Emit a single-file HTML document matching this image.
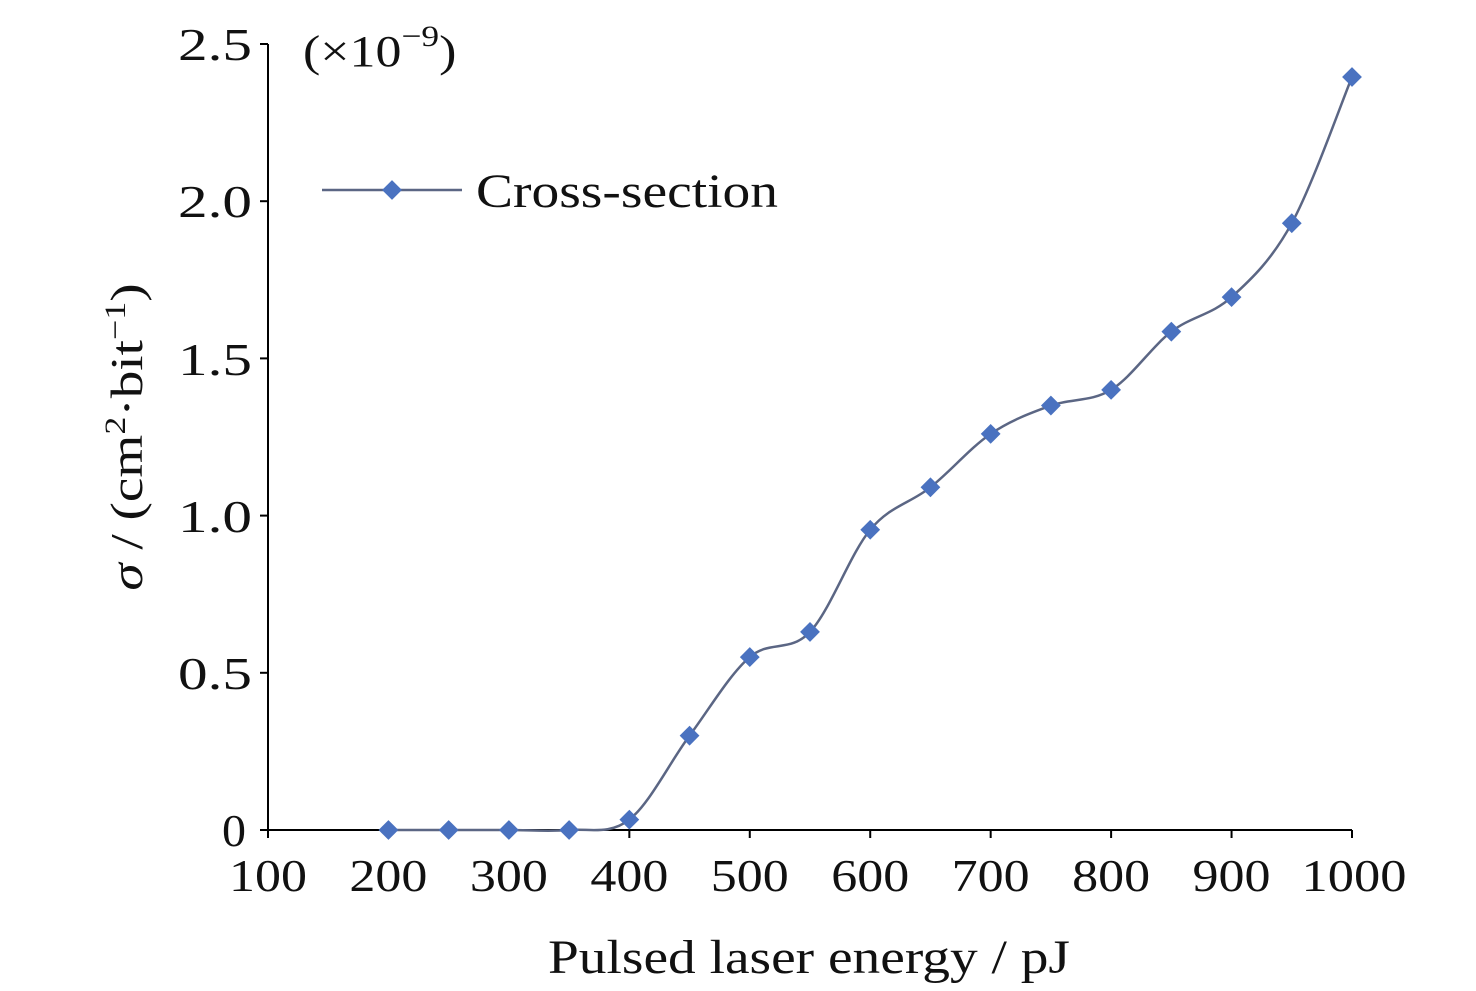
<!DOCTYPE html>
<html><head><meta charset="utf-8"><style>
html,body{margin:0;padding:0;background:#fff;}
svg{display:block;font-family:"Liberation Serif",serif;}
</style></head><body>
<svg id="s" width="1476" height="991" viewBox="0 0 1476 991">
<g stroke="#000" stroke-width="2" fill="none">
<line x1="268" y1="44" x2="268" y2="831"/>
<line x1="267" y1="830" x2="1352" y2="830"/>
</g>
<g id="ticks" stroke="#000" stroke-width="2"></g>
<g font-size="46" fill="#111">
<text x="222" y="846" textLength="24" lengthAdjust="spacingAndGlyphs">0</text>
<text x="178" y="689" textLength="74" lengthAdjust="spacingAndGlyphs">0.5</text>
<text x="178" y="532" textLength="74" lengthAdjust="spacingAndGlyphs">1.0</text>
<text x="178" y="375" textLength="74" lengthAdjust="spacingAndGlyphs">1.5</text>
<text x="178" y="217" textLength="74" lengthAdjust="spacingAndGlyphs">2.0</text>
<text x="178" y="60" textLength="74" lengthAdjust="spacingAndGlyphs">2.5</text>
</g>
<g font-size="46" fill="#111" id="xl"></g>
<text x="303" y="66" font-size="44" fill="#111" transform="translate(303,0) scale(1.18,1) translate(-303,0)">(×10<tspan dy="-20" font-size="30">−9</tspan><tspan dy="20">)</tspan></text>
<text x="548" y="973" font-size="48" fill="#111" textLength="522" lengthAdjust="spacingAndGlyphs">Pulsed laser energy / pJ</text>
<text transform="translate(142,437) rotate(-90) scale(1.2,1)" font-size="46" fill="#111" text-anchor="middle"><tspan font-style="italic">σ</tspan> / (cm<tspan dy="-17" font-size="30">2</tspan><tspan dy="17">·bit</tspan><tspan dy="-17" font-size="30">−1</tspan><tspan dy="17">)</tspan></text>
<line x1="322" y1="190" x2="462" y2="190" stroke="#5b6684" stroke-width="2.5"/>
<rect x="385" y="183" width="14" height="14" fill="#4a72c0" transform="rotate(45 392 190)"/>
<text x="476" y="207" font-size="48" fill="#111" textLength="302" lengthAdjust="spacingAndGlyphs">Cross-section</text>
<path id="curve" fill="none" stroke="#5b6684" stroke-width="2.5"/>
<g id="mk"></g>
</svg>
<script>
var ns="http://www.w3.org/2000/svg";
function X(v){return 268+(v-100)*1084/900;}
function Y(v){return 830-v*786/2.5;}
var t=document.getElementById("ticks"),xl=document.getElementById("xl");
for(var v=100;v<=1000;v+=100){var l=document.createElementNS(ns,"line");l.setAttribute("x1",X(v));l.setAttribute("x2",X(v));l.setAttribute("y1",830);l.setAttribute("y2",838);t.appendChild(l);
var w=v==1000?105:78;
var tx=document.createElementNS(ns,"text");tx.setAttribute("x",X(v)-w/2+(v==1000?2:0));tx.setAttribute("y",891);tx.setAttribute("textLength",w);tx.setAttribute("lengthAdjust","spacingAndGlyphs");tx.textContent=v;xl.appendChild(tx);}
for(var k=0;k<=5;k++){var l=document.createElementNS(ns,"line");l.setAttribute("x1",260);l.setAttribute("x2",268);l.setAttribute("y1",Y(k*0.5));l.setAttribute("y2",Y(k*0.5));t.appendChild(l);}
var d=[[200,0],[250,0],[300,0],[350,0],[400,0.033],[450,0.3],[500,0.55],[550,0.63],[600,0.955],[650,1.09],[700,1.26],[750,1.35],[800,1.40],[850,1.585],[900,1.695],[950,1.93],[1000,2.395]];
var p=d.map(function(a){return [X(a[0]),Y(a[1])];});
var s="M"+p[0][0]+","+p[0][1];
for(var i=0;i<p.length-1;i++){var p0=p[i?i-1:0],p1=p[i],p2=p[i+1],p3=p[i+2<p.length?i+2:i+1];
s+=" C"+(p1[0]+(p2[0]-p0[0])/6)+","+(p1[1]+(p2[1]-p0[1])/6)+" "+(p2[0]-(p3[0]-p1[0])/6)+","+(p2[1]-(p3[1]-p1[1])/6)+" "+p2[0]+","+p2[1];}
document.getElementById("curve").setAttribute("d",s);
var m=document.getElementById("mk");
p.forEach(function(q){var r=document.createElementNS(ns,"rect");r.setAttribute("x",q[0]-7);r.setAttribute("y",q[1]-7);r.setAttribute("width",14);r.setAttribute("height",14);r.setAttribute("fill","#4a72c0");r.setAttribute("transform","rotate(45 "+q[0]+" "+q[1]+")");m.appendChild(r);});
</script>
</body></html>
